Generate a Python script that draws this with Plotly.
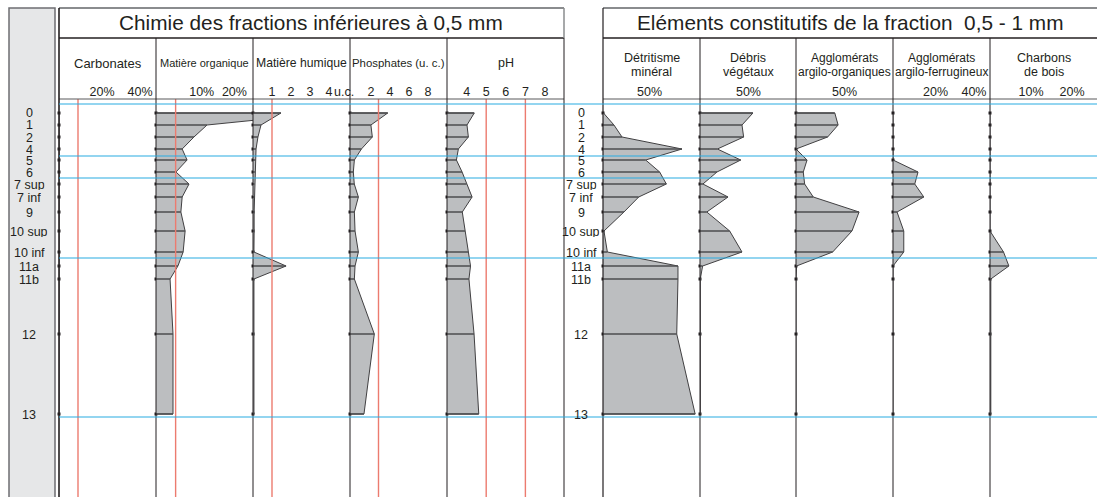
import plotly.graph_objects as go

# ---------------- data ----------------
levels = ["0", "1", "2", "4", "5", "6", "7 sup", "7 inf", "9", "10 sup",
          "10 inf", "11a", "11b", "12", "13"]
depth_cm = [9, 21, 33, 45, 56, 68, 80, 93, 108, 127, 148, 162, 175, 230, 310]
boundaries_cm = [0, 52, 74, 154, 313]

carbonates = [0, 0, 0, 0, 0, 0, 0, 0, 0, 0, 0, 0, 0, 0, 0]
mat_org = [52, 15.6, 11.6, 8.0, 9.5, 6.1, 10.1, 8.0, 7.6, 8.9, 8.3, 6.7, 4.3, 5.2, 5.2]
mat_hum = [1.47, 0.42, 0.26, 0.16, 0.14, 0.1, 0.08, 0.07, 0.06, 0.06, 0.05, 1.74, 0.05, 0.05, 0.05]
phosphates = [3.97, 2.2, 2.35, 1.2, 0.46, 0.35, 0.45, 0.88, 0.46, 0.53, 0.88, 0.53, 0.46, 2.56, 1.47]
ph = [4.39, 4.02, 4.09, 3.58, 3.48, 3.77, 4.0, 4.28, 3.78, 3.92, 4.09, 4.2, 4.12, 4.38, 4.62]
detritisme = [0.5, 11.3, 19.6, 81.4, 44, 58.4, 65.3, 36.8, 21.6, 1, 4.5, 77.3, 77.3, 76, 95]
debris = [54.6, 43.3, 45, 17.9, 42, 17.5, 3, 28.9, 7, 30.6, 43.3, 2.7, 0.3, 0.3, 0.3]
aggl_org = [40, 43.4, 32.6, 0, 11.4, 7.5, 8.9, 17.8, 65, 57.7, 37.8, 0.5, 0, 0, 0]
aggl_fer = [0, 0, 0, 0, 0, 13, 11.3, 16, 2.1, 5.6, 5.6, 0, 0, 0, 0]
charbons = [0, 0, 0, 0, 0, 0, 0, 0, 0, 0, 3.3, 4.6, 0.2, 0.2, 0.2]

# reference values (red lines)
ref_carb = [10]
ref_org = [6]
ref_hum = [1]
ref_phos = [3]
ref_ph = [5, 7]

# tick values per column
ticks_carb = [20, 40]
ticks_org = [10, 20]
ticks_hum = [1, 2, 3, 4]
ticks_phos = [2, 4, 6, 8]
ticks_ph = [4, 5, 6, 7, 8]
ticks_half = [50]
ticks_fer = [20, 40]
ticks_charb = [10, 20]

# ---------------- layout helpers ----------------
W, H = 1097, 497
TXT = "#231f20"
FONT = "Liberation Sans, Arial, sans-serif"
FILL = "#bcbec0"
EDGE = "#414042"
RED = "#ec7b6f"
CYAN = "#29abe2"


def px(x):
    return x / W


def py(y):
    return 1 - y / H


Y_TOP = py(99)

columns = [
    dict(vals=carbonates, base=0, dom=(59, 156), rng=[0, 51.05], ticks=ticks_carb, suf="%", shift=5, refs=ref_carb,
         head=["Carbonates"], hsize=13),
    dict(vals=mat_org, base=0, dom=(156, 253), rng=[0, 29.66], ticks=ticks_org, suf="%", shift=13, refs=ref_org,
         head=["Matière organique"], hsize=11),
    dict(vals=mat_hum, base=0, dom=(253, 350), rng=[0, 5.105], ticks=ticks_hum, suf="", shift=0, refs=ref_hum,
         head=["Matière humique"], hsize=12.2),
    dict(vals=phosphates, base=0, dom=(350, 447), rng=[0, 10.21], ticks=ticks_phos, suf="", shift=2, refs=ref_phos,
         head=["Phosphates (u. c.)"], hsize=11.4),
    dict(vals=ph, base=3, dom=(447, 564), rng=[3, 8.97], ticks=ticks_ph, suf="", shift=0, refs=ref_ph,
         head=["pH"], hsize=12.5),
    dict(vals=detritisme, base=0, dom=(603, 700), rng=[0, 100], ticks=ticks_half, suf="%", shift=-2, refs=[],
         head=["Détritisme", "minéral"], hsize=12.5),
    dict(vals=debris, base=0, dom=(700, 796), rng=[0, 99], ticks=ticks_half, suf="%", shift=0, refs=[],
         head=["Débris", "végétaux"], hsize=12.5),
    dict(vals=aggl_org, base=0, dom=(796, 893), rng=[0, 100], ticks=ticks_half, suf="%", shift=0, refs=[],
         head=["Agglomérats", "argilo-organiques"], hsize=12),
    dict(vals=aggl_fer, base=0, dom=(893, 990), rng=[0, 50.4], ticks=ticks_fer, suf="%", shift=4, refs=[],
         head=["Agglomérats", "argilo-ferrugineux"], hsize=12),
    dict(vals=charbons, base=0, dom=(990, 1097), rng=[0, 26.1], ticks=ticks_charb, suf="%", shift=0, refs=[],
         head=["Charbons", "de bois"], hsize=12.5),
]

fig = go.Figure()
shapes = []
annotations = []

for i, c in enumerate(columns):
    n = i + 1
    xa = "x" if n == 1 else f"x{n}"
    key = "xaxis" if n == 1 else f"xaxis{n}"
    vals = c["vals"]
    base = c["base"]

    # small level ticks on the zero axis
    fig.add_trace(go.Scatter(x=[base] * len(depth_cm), y=depth_cm, xaxis=xa, yaxis="y", mode="markers",
                             marker=dict(symbol="square", size=3, color=TXT), hoverinfo="skip",
                             showlegend=False, cliponaxis=False))
    # filled profile
    xs = [base] + list(vals) + [base]
    ys = [depth_cm[0]] + list(depth_cm) + [depth_cm[-1]]
    fig.add_trace(go.Scatter(x=xs, y=ys, xaxis=xa, yaxis="y", mode="lines", fill="toself",
                             fillcolor=FILL, line=dict(color=EDGE, width=1), hoverinfo="skip",
                             showlegend=False))
    # horizontal level lines
    lx, ly = [], []
    for v, d in zip(vals, depth_cm):
        lx += [base, v, None]
        ly += [d, d, None]
    fig.add_trace(go.Scatter(x=lx, y=ly, xaxis=xa, yaxis="y", mode="lines",
                             line=dict(color="#4d4d4f", width=1.5), hoverinfo="skip", showlegend=False))

    ax = dict(domain=[px(c["dom"][0]), px(c["dom"][1])], range=c["rng"], anchor="y", side="top",
              showgrid=False, zeroline=False, showline=False, ticks="",
              tickmode="array", tickvals=c["ticks"], ticktext=[f"{t}{c['suf']}" for t in c["ticks"]],
              ticklabelshift=c["shift"],
              tickfont=dict(size=12.5, color=TXT, family=FONT), fixedrange=True)
    fig.update_layout(**{key: ax})

    for r in c["refs"]:
        shapes.append(dict(type="line", xref=xa, yref="paper", x0=r, x1=r, y0=0, y1=Y_TOP,
                           line=dict(color=RED, width=1.4), layer="above"))

    cx = px((c["dom"][0] + c["dom"][1]) / 2)
    if len(c["head"]) == 1:
        annotations.append(dict(text=c["head"][0], x=cx, y=py(63), xref="paper", yref="paper",
                                showarrow=False, xanchor="center", yanchor="middle",
                                font=dict(size=c["hsize"], color=TXT, family=FONT)))
    else:
        for t, yy in zip(c["head"], [58, 72]):
            annotations.append(dict(text=t, x=cx, y=py(yy), xref="paper", yref="paper",
                                    showarrow=False, xanchor="center", yanchor="middle",
                                    font=dict(size=c["hsize"], color=TXT, family=FONT)))

# "u.c." after the last humic tick
annotations.append(dict(text="u.c.", x=4, xref="x3", xshift=3, y=py(92), yref="paper", showarrow=False,
                        xanchor="left", yanchor="middle", font=dict(size=12.5, color=TXT, family=FONT)))

# titles
annotations.append(dict(text="Chimie des fractions inférieures à 0,5 mm", x=px(311.5), y=py(23),
                        xref="paper", yref="paper", showarrow=False, xanchor="center", yanchor="middle",
                        font=dict(size=20.8, color=TXT, family=FONT)))
annotations.append(dict(text="Eléments constitutifs de la fraction  0,5 - 1 mm", x=px(850), y=py(23),
                        xref="paper", yref="paper", showarrow=False, xanchor="center", yanchor="middle",
                        font=dict(size=20.8, color=TXT, family=FONT)))

# depth labels (two columns)
for lab, d in zip(levels, depth_cm):
    for xc in (29, 581):
        annotations.append(dict(text=lab, x=px(xc), y=d, xref="paper", yref="y", showarrow=False,
                                xanchor="center", yanchor="middle", height=11,
                                font=dict(size=12.5, color=TXT, family=FONT)))

# gray label box
shapes.append(dict(type="rect", xref="paper", yref="paper", x0=px(9), x1=px(55), y0=-0.05, y1=py(8),
                   fillcolor="#e6e7e8", line=dict(color="#6d6e71", width=1.5), layer="below"))


def hline(x0, x1, y, color=TXT, width=1.0):
    shapes.append(dict(type="line", xref="paper", yref="paper", x0=px(x0), x1=px(x1), y0=py(y), y1=py(y),
                       line=dict(color=color, width=width), layer="above"))


def vline(x, y0, y1, color=TXT, width=1.0):
    shapes.append(dict(type="line", xref="paper", yref="paper", x0=px(x), x1=px(x), y0=py(y0), y1=py(y1),
                       line=dict(color=color, width=width), layer="above"))


# left panel frame
hline(59, 564, 8, "#8a8c8e", 2)
hline(59, 564, 38, TXT, 1.5)
hline(59, 564, 99, "#58595b", 1)
vline(59, 8, 505, TXT, 1.6)
vline(564, 8, 38, "#8a8c8e", 1.5)
vline(564, 38, 505, TXT, 1)
for xv in (156, 253, 350, 447):
    vline(xv, 38, 505, TXT, 1)
# right panel frame
hline(603, 1097, 8, "#8a8c8e", 2)
hline(603, 1097, 38, TXT, 1.5)
hline(603, 1097, 99, "#58595b", 1)
vline(603, 8, 505, TXT, 1.2)
for xv in (700, 796, 893, 990):
    vline(xv, 38, 505, TXT, 1)

# cyan horizon boundaries
for b in boundaries_cm:
    shapes.append(dict(type="line", xref="paper", yref="y", x0=px(59), x1=1, y0=b, y1=b,
                       line=dict(color=CYAN, width=1.2), layer="above"))

fig.update_layout(
    width=W, height=H, autosize=False,
    margin=dict(l=0, r=0, t=0, b=0, pad=0),
    paper_bgcolor="white", plot_bgcolor="rgba(0,0,0,0)",
    showlegend=False,
    yaxis=dict(domain=[0, Y_TOP], range=[393, -5], visible=False, fixedrange=True),
    shapes=shapes, annotations=annotations,
    font=dict(family=FONT, color=TXT),
)

fig.write_html("out.html", config={"displayModeBar": False},
               post_script="document.body.style.margin='0px';document.body.style.overflow='hidden';")
